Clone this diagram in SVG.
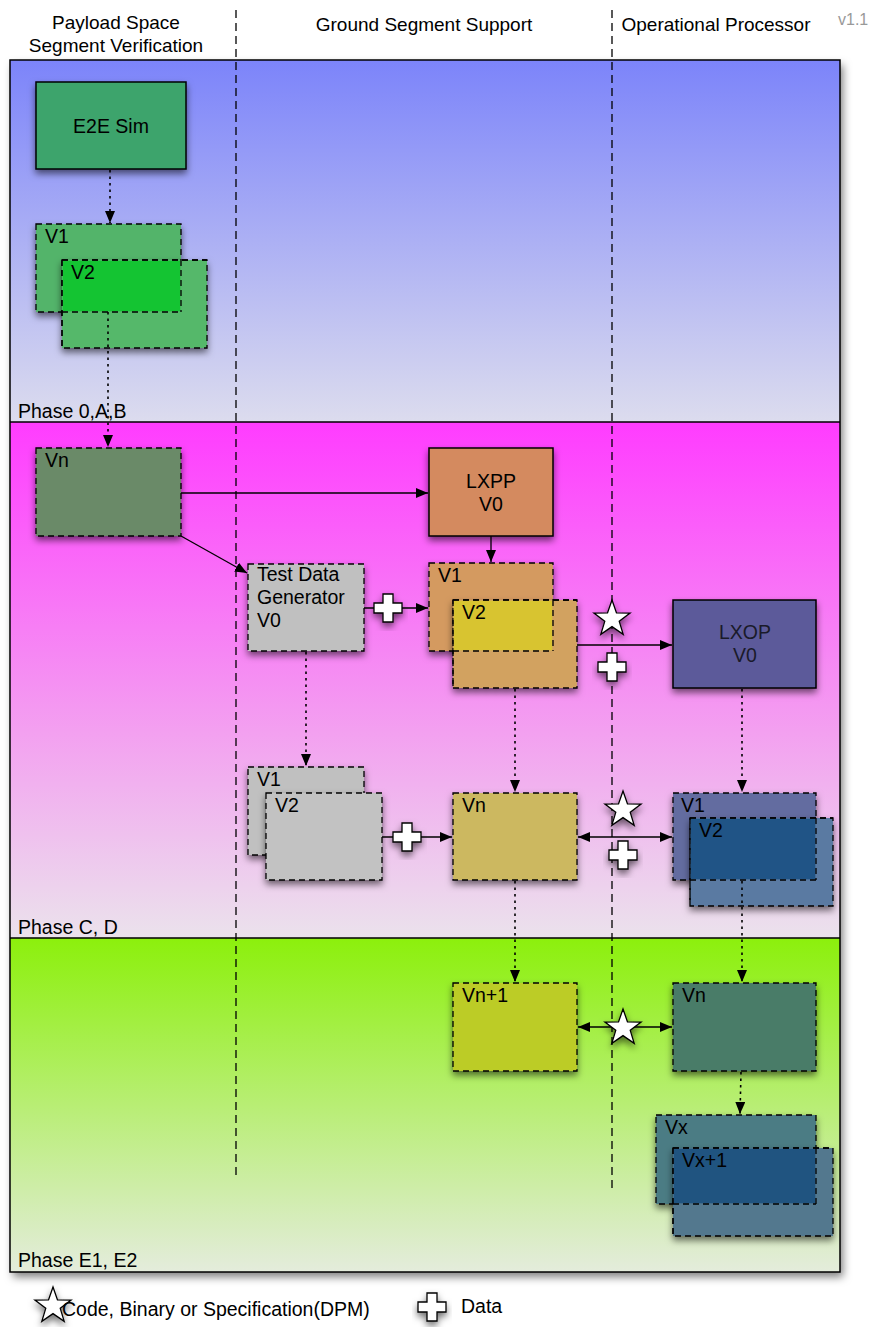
<svg xmlns="http://www.w3.org/2000/svg" width="878" height="1327" viewBox="0 0 878 1327">
<defs>
<linearGradient id="gBlue" x1="0" y1="0" x2="0" y2="1"><stop offset="0" stop-color="#7c84fa"/><stop offset="1" stop-color="#dcdcee"/></linearGradient>
<linearGradient id="gMag" x1="0" y1="0" x2="0" y2="1"><stop offset="0" stop-color="#ff3cff"/><stop offset="0.6" stop-color="#f3a0f0"/><stop offset="1" stop-color="#ebe2ec"/></linearGradient>
<linearGradient id="gGreen" x1="0" y1="0" x2="0" y2="1"><stop offset="0" stop-color="#8cf00c"/><stop offset="1" stop-color="#e4ecdc"/></linearGradient>
<filter id="sh" x="-20%" y="-20%" width="140%" height="150%"><feDropShadow dx="0" dy="4" stdDeviation="3.5" flood-color="#000" flood-opacity="0.55"/></filter>
<filter id="fsh" x="-5%" y="-5%" width="110%" height="110%"><feDropShadow dx="3" dy="5" stdDeviation="4" flood-color="#000" flood-opacity="0.5"/></filter>
<marker id="ah" viewBox="0 0 12 10" refX="12" refY="5" markerWidth="12" markerHeight="10" markerUnits="userSpaceOnUse" orient="auto-start-reverse"><path d="M0,0 L12,5 L0,10 Z" fill="#000"/></marker>
<path id="star" d="M0,-19 L4.47,-6.15 L18.07,-5.87 L7.23,2.35 L11.17,15.37 L0,7.6 L-11.17,15.37 L-7.23,2.35 L-18.07,-5.87 L-4.47,-6.15 Z"/>
<path id="plus" d="M-5,-14 H5 V-5 H14 V5 H5 V14 H-5 V5 H-14 V-5 H-5 Z"/>
</defs>
<style>
text{font-family:"Liberation Sans",Arial,sans-serif;fill:#000;}
.hdr{font-size:19px;text-anchor:middle;}
.lbl{font-size:19.5px;}
.ctr{font-size:19.5px;text-anchor:middle;}
.solid{stroke:#000;stroke-width:1.5;filter:url(#sh);}
.dash{stroke:#000;stroke-width:1.3;stroke-dasharray:6,4;filter:url(#sh);}
.lane{stroke:#000;stroke-width:1.3;stroke-dasharray:8,5;fill:none;}
.con{stroke:#000;stroke-width:1.3;fill:none;}
.dot{stroke:#000;stroke-width:1.6;stroke-dasharray:2.5,4;fill:none;}
.sym{fill:#fff;stroke:#000;stroke-width:1.3;filter:url(#sh);}
.ov{stroke:#000;stroke-width:1.3;stroke-dasharray:6,4;}
</style>
<rect width="878" height="1327" fill="#fff"/>
<g id="headers">
<text class="hdr" x="116" y="29">Payload Space</text>
<text class="hdr" x="116" y="52">Segment Verification</text>
<text class="hdr" x="424" y="31">Ground Segment Support</text>
<text class="hdr" x="716" y="31">Operational Processor</text>
<text x="838" y="25" style="font-size:16px;fill:#999">v1.1</text>
</g>
<g id="frame">
<rect x="10" y="60" width="830" height="1212" fill="#fff" filter="url(#fsh)"/>
<rect x="10" y="60" width="830" height="362" fill="url(#gBlue)"/>
<rect x="10" y="422" width="830" height="516" fill="url(#gMag)"/>
<rect x="10" y="938" width="830" height="334" fill="url(#gGreen)"/>
<rect x="10" y="60" width="830" height="1212" fill="none" stroke="#000" stroke-width="1.5"/>
<line x1="10" y1="422" x2="840" y2="422" stroke="#000" stroke-width="1.3"/>
<line x1="10" y1="938" x2="840" y2="938" stroke="#000" stroke-width="1.3"/>
<text class="lbl" x="18" y="418">Phase 0,A,B</text>
<text class="lbl" x="18" y="934">Phase C, D</text>
<text class="lbl" x="18" y="1267">Phase E1, E2</text>
</g>
<g id="lanes">
<line class="lane" x1="236" y1="10" x2="236" y2="1178"/>
<line class="lane" x1="612" y1="10" x2="612" y2="1192"/>
</g>
<g id="e2e-sim"><rect class="solid" x="36" y="82" width="150" height="87" fill="#3ea46c"/><text class="ctr" x="111" y="133">E2E Sim</text></g>
<g id="p0-v1"><rect class="dash" x="36" y="224" width="145" height="88" fill="#52b46a"/><text class="lbl" x="45" y="243">V1</text></g>
<g id="p0-v2"><rect class="dash" x="62" y="260" width="145" height="88" fill="#54b86a"/><rect x="62.7" y="260.7" width="117.6" height="50.6" fill="#14c432"/><line class="ov" x1="62" y1="260" x2="207" y2="260"/><line class="ov" x1="62" y1="260" x2="62" y2="348"/><line class="ov" x1="181" y1="260" x2="181" y2="312"/><line class="ov" x1="62" y1="312" x2="181" y2="312"/><text class="lbl" x="71" y="279">V2</text></g>
<g id="cd-vn"><rect class="dash" x="36" y="448" width="145" height="88" fill="#6a8a68"/><text class="lbl" x="45" y="467">Vn</text></g>
<g id="lxpp"><rect class="solid" x="429" y="448" width="124" height="88" fill="#d48a5e"/><text class="ctr" x="491" y="488">LXPP</text><text class="ctr" x="491" y="511">V0</text></g>
<g id="tdg"><rect class="dash" x="248" y="564" width="116" height="87" fill="#c0c0c0"/><text class="lbl" x="257" y="581">Test Data</text><text class="lbl" x="257" y="604">Generator</text><text class="lbl" x="257" y="627">V0</text></g>
<g id="gs-v1"><rect class="dash" x="429" y="563" width="124" height="88" fill="#d49a60"/><text class="lbl" x="438" y="582">V1</text></g>
<g id="gs-v2"><rect class="dash" x="453" y="600" width="124" height="88" fill="#d2a260"/><rect x="453.7" y="600.7" width="98.6" height="49.6" fill="#d8c430"/><line class="ov" x1="553" y1="600" x2="553" y2="651"/><line class="ov" x1="453" y1="651" x2="553" y2="651"/><line class="ov" x1="453" y1="600" x2="577" y2="600"/><line class="ov" x1="453" y1="600" x2="453" y2="688"/><text class="lbl" x="462" y="619">V2</text></g>
<g id="lxop"><rect class="solid" x="673" y="600" width="143" height="88" fill="#5c5a9a"/><text class="ctr" x="745" y="639" style="fill:#1a1a2a">LXOP</text><text class="ctr" x="745" y="662" style="fill:#1a1a2a">V0</text></g>
<g id="tdg-v1"><rect class="dash" x="248" y="767" width="116" height="88" fill="#c0c0c0"/><text class="lbl" x="257" y="786">V1</text></g>
<g id="tdg-v2"><rect class="dash" x="266" y="793" width="116" height="87" fill="#c2c2c2"/><text class="lbl" x="275" y="812">V2</text></g>
<g id="gs-vn"><rect class="dash" x="453" y="793" width="124" height="87" fill="#ccb860"/><text class="lbl" x="462" y="812">Vn</text></g>
<g id="op-v1"><rect class="dash" x="673" y="793" width="143" height="87" fill="#646ca0"/><text class="lbl" x="681" y="812">V1</text></g>
<g id="op-v2"><rect class="dash" x="690" y="818" width="143" height="88" fill="#5a7aa2"/><rect x="690.7" y="818.7" width="124.6" height="60.6" fill="#205486"/><line class="ov" x1="690" y1="818" x2="833" y2="818"/><line class="ov" x1="690" y1="818" x2="690" y2="906"/><line class="ov" x1="816" y1="818" x2="816" y2="880"/><line class="ov" x1="690" y1="880" x2="816" y2="880"/><text class="lbl" x="699" y="837">V2</text></g>
<g id="e-vn1"><rect class="dash" x="453" y="983" width="124" height="88" fill="#bccc28"/><text class="lbl" x="462" y="1002">Vn+1</text></g>
<g id="e-vn"><rect class="dash" x="673" y="983" width="143" height="88" fill="#4a7c68"/><text class="lbl" x="682" y="1002">Vn</text></g>
<g id="e-vx"><rect class="dash" x="656" y="1115" width="160" height="89" fill="#4c7c84"/><text class="lbl" x="665" y="1134">Vx</text></g>
<g id="e-vx1"><rect class="dash" x="673" y="1148" width="160" height="88" fill="#52788e"/><rect x="673.7" y="1148.7" width="141.6" height="54.6" fill="#205480"/><line class="ov" x1="673" y1="1148" x2="833" y2="1148"/><line class="ov" x1="673" y1="1148" x2="673" y2="1236"/><line class="ov" x1="816" y1="1148" x2="816" y2="1204"/><line class="ov" x1="673" y1="1204" x2="816" y2="1204"/><text class="lbl" x="682" y="1167">Vx+1</text></g>
<g id="connectors">
<line class="dot" x1="110" y1="170" x2="110" y2="223" marker-end="url(#ah)"/>
<line class="dot" x1="108" y1="312" x2="108" y2="447" marker-end="url(#ah)"/>
<line class="con" x1="181" y1="493" x2="428" y2="493" marker-end="url(#ah)"/>
<line class="con" x1="181" y1="536" x2="247" y2="573" marker-end="url(#ah)"/>
<line class="con" x1="491" y1="536" x2="491" y2="562" marker-end="url(#ah)"/>
<line class="con" x1="364" y1="608" x2="428" y2="608" marker-end="url(#ah)"/>
<line class="con" x1="577" y1="645" x2="672" y2="645" marker-end="url(#ah)"/>
<line class="dot" x1="306" y1="652" x2="306" y2="766" marker-end="url(#ah)"/>
<line class="dot" x1="515" y1="689" x2="515" y2="792" marker-end="url(#ah)"/>
<line class="dot" x1="742" y1="689" x2="742" y2="792" marker-end="url(#ah)"/>
<line class="con" x1="382" y1="837" x2="452" y2="837" marker-end="url(#ah)"/>
<line class="con" x1="578" y1="837" x2="672" y2="837" marker-start="url(#ah)" marker-end="url(#ah)"/>
<line class="dot" x1="515" y1="881" x2="515" y2="982" marker-end="url(#ah)"/>
<line class="dot" x1="742" y1="881" x2="742" y2="982" marker-end="url(#ah)"/>
<line class="con" x1="578" y1="1027" x2="672" y2="1027" marker-start="url(#ah)" marker-end="url(#ah)"/>
<line class="dot" x1="741" y1="1072" x2="740" y2="1114" marker-end="url(#ah)"/>
</g>
<g id="symbols">
<use href="#plus" class="sym" x="388" y="608"/>
<use href="#star" class="sym" x="612" y="619"/>
<use href="#plus" class="sym" x="612" y="667"/>
<use href="#plus" class="sym" x="407" y="837"/>
<use href="#star" class="sym" x="623" y="810"/>
<use href="#plus" class="sym" x="623" y="855"/>
<use href="#star" class="sym" x="623" y="1028"/>
</g>
<g id="legend">
<use href="#star" class="sym" x="53" y="1306"/>
<text class="lbl" x="62" y="1316">Code, Binary or Specification(DPM)</text>
<use href="#plus" class="sym" x="432" y="1307"/>
<text class="lbl" x="461" y="1313">Data</text>
</g>
</svg>
